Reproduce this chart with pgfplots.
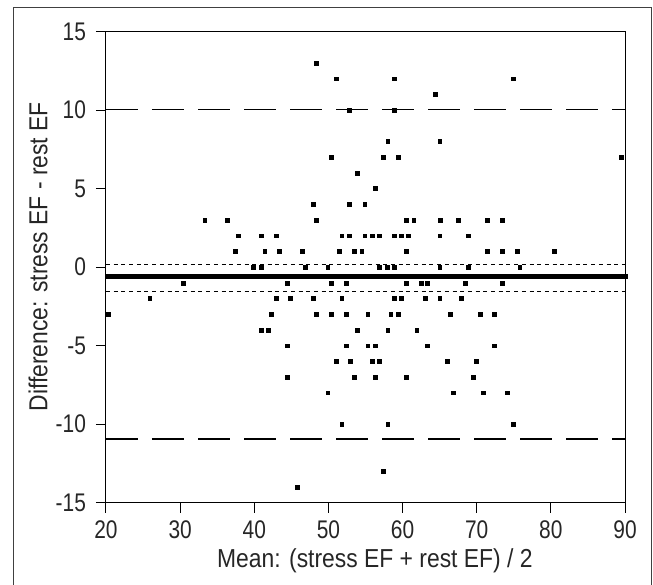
\documentclass[border=0pt]{standalone}
\usepackage{pgfplots}
\pgfplotsset{compat=1.18}
\usepackage{fontspec}
\setmainfont{Liberation Sans}[FakeStretch=0.88]
\newfontfamily\tickfont{Liberation Sans}[FakeStretch=0.82]
\pgfplotstableread{
x y
48.3 13
51.0 12
58.9 12
74.9 12
64.4 11
52.8 10
58.9 10
58.0 8
65.0 8
50.4 7
57.4 7
59.4 7
89.5 7
53.9 6
56.3 5
47.9 4
52.8 4
54.9 4
33.3 3
36.4 3
48.3 3
60.5 3
61.5 3
65.1 3
67.5 3
71.4 3
73.4 3
37.8 2
40.9 2
43.0 2
51.8 2
52.8 2
54.9 2
55.9 2
56.9 2
58.9 2
59.8 2
60.8 2
65.0 2
68.9 2
37.4 1
41.4 1
43.4 1
46.5 1
51.4 1
53.5 1
54.5 1
60.5 1
71.4 1
73.4 1
75.5 1
80.4 1
39.9 0
40.9 0
46.9 0
49.9 0
56.9 0
57.9 0
58.9 0
65.0 0
68.9 0
75.8 0
30.4 -1
44.4 -1
50.4 -1
52.4 -1
60.5 -1
62.5 -1
63.3 -1
68.5 -1
73.4 -1
25.9 -2
43.0 -2
44.8 -2
47.9 -2
51.8 -2
58.9 -2
59.8 -2
63.0 -2
65.0 -2
67.9 -2
20.3 -3
42.3 -3
48.3 -3
50.4 -3
52.4 -3
55.3 -3
58.4 -3
59.4 -3
66.4 -3
70.5 -3
72.4 -3
40.9 -4
41.9 -4
53.9 -4
58.0 -4
61.9 -4
44.4 -5
52.4 -5
55.3 -5
56.3 -5
63.3 -5
72.4 -5
51.0 -6
52.9 -6
55.9 -6
56.9 -6
66.0 -6
69.9 -6
44.4 -7
53.5 -7
56.3 -7
60.5 -7
69.5 -7
49.9 -8
66.8 -8
70.9 -8
74.1 -8
51.8 -10
58.0 -10
74.9 -10
57.4 -13
45.8 -14
}\pts
\begin{document}
\begin{tikzpicture}
\path[use as bounding box] (-106pt,-82.3pt) rectangle (547pt,502.7pt);
\draw[line width=1pt, black!75] (-92.7pt,-83pt) -- (-92.7pt,494.7pt) -- (545pt,494.7pt) -- (545pt,-83pt);
\begin{axis}[
  at={(0pt,0pt)}, anchor=south west,
  scale only axis, width=519pt, height=471.2pt,
  xmin=20, xmax=90, ymin=-15, ymax=15,
  xtick={20,30,...,90}, ytick={-15,-10,...,15},
  tick align=outside, tick pos=left,
  major tick length=10pt,
  axis line style={line width=1pt},
  every tick/.style={black, line width=1pt},
  /pgf/number format/assume math mode=true,
  ticklabel style={font=\tickfont\fontsize{25.5}{29}\selectfont, text=black!85},
  xticklabel style={yshift=-4.5pt},
  yticklabel style={xshift=-6.5pt},
  clip=false,
  xlabel={Mean: (stress EF + rest EF) / 2},
  ylabel={Difference: stress EF - rest EF},
  xlabel style={font=\fontsize{26}{30}\selectfont, text=black!85, at={(axis description cs:0.518,-0.123)}, anchor=center},
  ylabel style={font=\fontsize{26}{30}\selectfont, text=black!85, at={(axis description cs:-0.131,0.522)}, anchor=center, rotate=0},
]
\addplot[black, line width=1.3pt, dash pattern=on 32pt off 14pt] coordinates {(20,10.05) (90,10.05)};
\addplot[black, line width=1.3pt, dash pattern=on 32pt off 14pt] coordinates {(20,-10.95) (90,-10.95)};
\addplot[black, line width=1pt, dash pattern=on 4pt off 3.7pt] coordinates {(20,0.15) (90,0.15)};
\addplot[black, line width=1pt, dash pattern=on 4pt off 3.7pt] coordinates {(20,-1.55) (90,-1.55)};
\addplot[black, line width=4.2pt] coordinates {(20,-0.6) (90.4,-0.6)};
\addplot[only marks, mark=square*, mark size=1.9pt, black] table[x=x,y=y] {\pts};
\end{axis}
\end{tikzpicture}
\end{document}
